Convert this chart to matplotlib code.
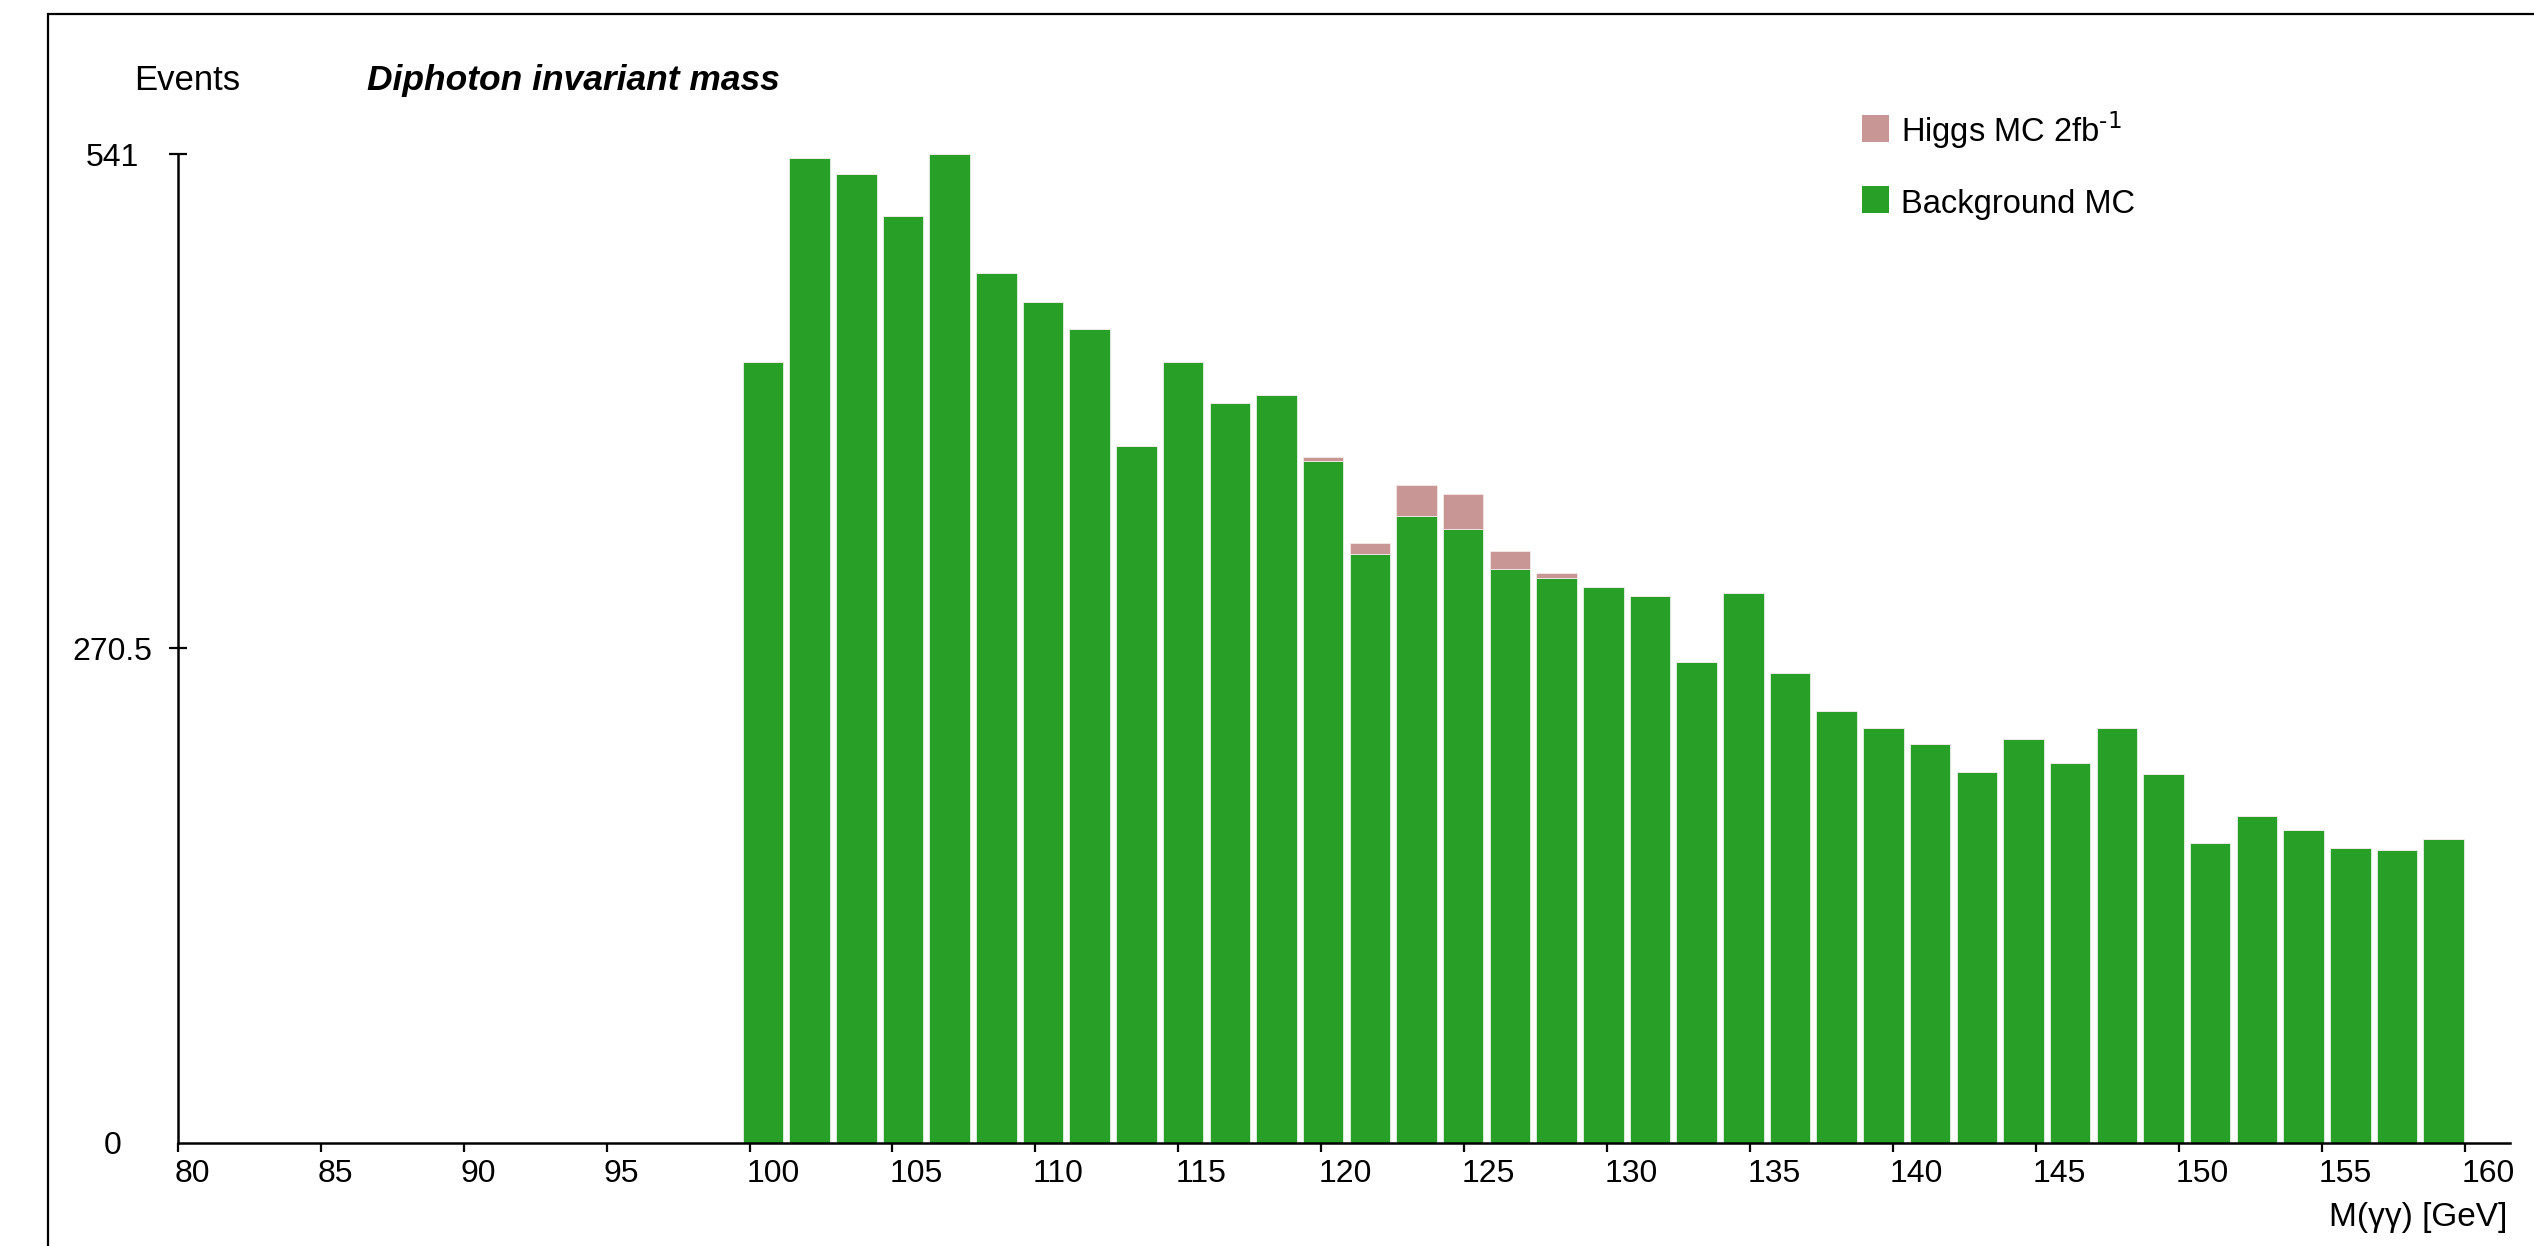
from matplotlib import pyplot as plt
from matplotlib import patches
from matplotlib import transforms
import numpy as np

plt.rcParams['font.family'] = ['Liberation Sans', 'DejaVu Sans']

# diphoton mass histogram, 37 bins starting just below 100 GeV
mass_lo = 99.76
bin_width = 1.633
background_mc = [427, 539, 530, 507, 541, 476, 460, 445, 381, 427,
                 405, 409, 373, 322, 343, 336, 314, 309, 304, 299,
                 263, 301, 257, 236, 227, 218, 203, 221, 208, 227,
                 202, 164, 179, 171, 161, 160, 166]
higgs_mc = [0, 0, 0, 0, 0, 0, 0, 0, 0, 0,
            0, 0, 2, 6, 17, 19, 10, 3, 0, 0,
            0, 0, 0, 0, 0, 0, 0, 0, 0, 0,
            0, 0, 0, 0, 0, 0, 0]
x_ticks = [80, 85, 90, 95, 100, 105, 110, 115, 120, 125, 130, 135, 140, 145, 150, 155, 160]
y_ticks = [0, 270.5, 541]
labels = [r'Higgs MC 2fb$^{\text{-1}}$', 'Background MC']

GREEN = '#289f26'
PINK = '#c99696'

W, H = 2534, 1246
fig = plt.figure(figsize=(W / 100, H / 100), dpi=100)
ax = fig.add_axes([177.7 / W, (H - 1142.7) / H, (2510 - 177.7) / W, (1142.7 - 154) / H])

lefts = mass_lo + bin_width * np.arange(len(background_mc))
bg = np.array(background_mc)
sig = np.array(higgs_mc)
ax.bar(lefts, bg, width=bin_width * 0.868, align='edge', color=GREEN,
       edgecolor='#e4f2e4', linewidth=0.6, zorder=2)
ax.bar(lefts, sig, bottom=bg, width=bin_width * 0.868, align='edge', color=PINK,
       edgecolor='#f4e8e8', linewidth=0.6, zorder=2)

ax.set_xlim(80, 80 + (2510 - 177.7) / 28.59)
ax.set_ylim(0, 541)
for side in ['top', 'right']:
    ax.spines[side].set_visible(False)
for side in ['left', 'bottom']:
    ax.spines[side].set_linewidth(1.8)
    ax.spines[side].set_zorder(3)

ax.set_xticks(x_ticks)
ax.set_xticklabels([str(t) for t in x_ticks])
ax.set_yticks(y_ticks)
ax.set_yticklabels(['0', '270.5', '541'])
ax.tick_params(axis='x', direction='out', length=6.5, width=1.6, pad=5, labelsize=23)
ax.tick_params(axis='y', direction='inout', length=13.5, width=1.6, pad=40, labelsize=23)
ax.yaxis.get_major_ticks()[0].tick1line.set_visible(False)

shift = transforms.ScaledTranslation(-3 / 100, 0, fig.dpi_scale_trans)
for lab in ax.get_xticklabels():
    lab.set_horizontalalignment('left')
    lab.set_transform(lab.get_transform() + shift)
for lab in ax.get_yticklabels():
    lab.set_horizontalalignment('center')

# headings
fig.text(187 / W, 1 - 90 / H, 'Events', ha='center', va='baseline', fontsize=25)
fig.text(367 / W, 1 - 90 / H, 'Diphoton invariant mass', ha='left', va='baseline',
         fontsize=25.5, fontweight='bold', fontstyle='italic')
fig.text(2507 / W, 1 - 1226 / H, 'M(\u03b3\u03b3) [GeV]', ha='right', va='baseline', fontsize=24)

# legend: coloured squares with labels
for i, (lab, col) in enumerate(zip(labels, [PINK, GREEN])):
    top = 115 + 71 * i
    fig.patches.append(patches.Rectangle((1862 / W, 1 - (top + 27) / H), 27 / W, 27 / H,
                                         transform=fig.transFigure, facecolor=col,
                                         edgecolor='none'))
    fig.text(1901 / W, 1 - (top + 27) / H, lab, ha='left', va='baseline', fontsize=23.5)

# outer frame
fig.patches.append(patches.Rectangle((48 / W, -0.2), 1.5, 1.2 - 14 / H, transform=fig.transFigure,
                                     fill=False, edgecolor='black', linewidth=1.6))

plt.savefig('out.png', dpi=100)
